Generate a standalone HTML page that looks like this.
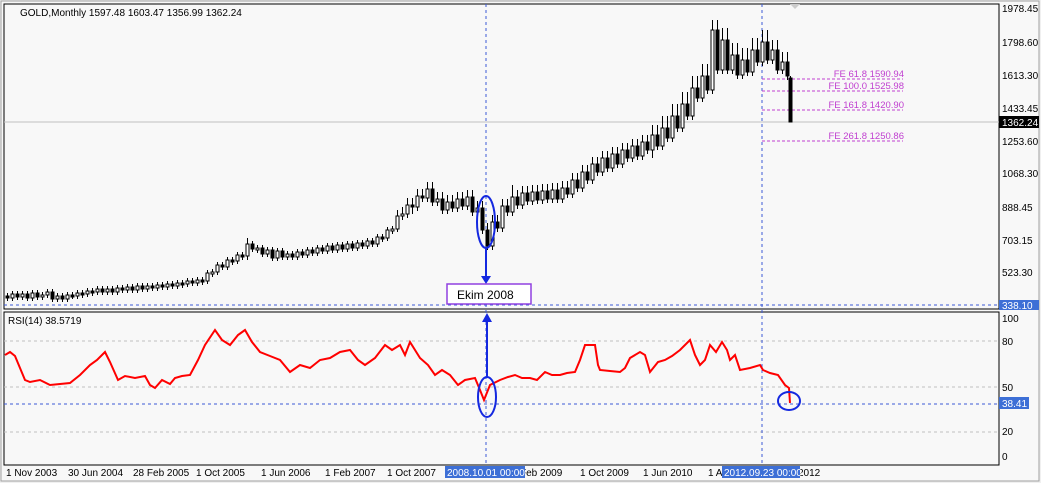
<!DOCTYPE html>
<html><head><meta charset="utf-8"><style>
html,body{margin:0;padding:0;background:#f0f0f0;}
svg{display:block;font-family:"Liberation Sans",sans-serif;}
</style></head><body>
<svg width="1041" height="483" xmlns="http://www.w3.org/2000/svg">
<rect x="0" y="0" width="1041" height="483" fill="#f0f0f0"/>
<rect x="1" y="1" width="1038" height="480" fill="#f8f8f8" stroke="#a0a0a0"/>
<rect x="4" y="4" width="995" height="305" fill="#f8f8f8" stroke="#000" stroke-width="1"/>
<rect x="4" y="312" width="995" height="153" fill="#f8f8f8" stroke="#000" stroke-width="1"/>
<text x="20" y="16" font-size="10">GOLD,Monthly  1597.48 1603.47 1356.99 1362.24</text>
<text x="8" y="324" font-size="10">RSI(14) 38.5719</text>
<g font-size="10" fill="#000">
<text x="1002" y="12">1978.45</text><text x="1002" y="46">1798.60</text><text x="1002" y="79">1613.30</text>
<text x="1002" y="112">1433.45</text><text x="1002" y="145">1253.60</text><text x="1002" y="177">1068.30</text>
<text x="1002" y="211">888.45</text><text x="1002" y="244">703.15</text><text x="1002" y="276">523.30</text>
<rect x="999" y="300" width="40" height="10" fill="#3d6fd6"/><text x="1002" y="309" fill="#fff">338.10</text>
<rect x="999" y="116" width="40" height="12" fill="#000"/><text x="1002" y="126" fill="#fff">1362.24</text>
<text x="1002" y="322">100</text><text x="1002" y="345">80</text><text x="1002" y="391">50</text>
<rect x="999" y="397" width="30" height="12" fill="#3d6fd6"/><text x="1002" y="407" fill="#fff">38.41</text>
<text x="1002" y="435">20</text><text x="1002" y="460">0</text>
</g>
<g stroke="#c0c0c0" stroke-dasharray="3,3">
<line x1="4" y1="341" x2="999" y2="341"/><line x1="4" y1="387" x2="999" y2="387"/><line x1="4" y1="432" x2="999" y2="432"/>
</g>
<line x1="4" y1="122" x2="999" y2="122" stroke="#c0c0c0"/>
<g stroke="#3d5ad6" stroke-dasharray="3,3">
<line x1="486" y1="4" x2="486" y2="465"/><line x1="762" y1="4" x2="762" y2="465"/>
<line x1="4" y1="305" x2="999" y2="305"/><line x1="4" y1="404" x2="999" y2="404"/>
</g>
<g stroke="#c040d0" stroke-dasharray="3,2">
<line x1="762" y1="79" x2="903" y2="79"/><line x1="762" y1="91" x2="903" y2="91"/>
<line x1="762" y1="110" x2="903" y2="110"/><line x1="762" y1="141" x2="903" y2="141"/>
</g>
<g font-size="9.5" fill="#c040d0" text-anchor="end">
<text x="904" y="77">FE 61.8 1590.94</text><text x="904" y="89">FE 100.0 1525.98</text>
<text x="904" y="108">FE 161.8 1420.90</text><text x="904" y="139">FE 261.8 1250.86</text>
</g>
<path fill="none" stroke="#000" d="M7.5,293V301M12.5,291V301M17.5,291V300M22.5,291V300M27.5,291V301M32.5,290V301M37.5,290V300M42.5,292V300M47.5,289V298M52.5,289V302M57.5,293V302M62.5,293V302M67.5,292V302M72.5,292V299M77.5,290V299M82.5,290V298M87.5,288V297M92.5,288V296M97.5,286V295M102.5,286V295M107.5,286V295M112.5,286V295M117.5,285V295M122.5,285V293M127.5,284V293M132.5,284V293M137.5,283V293M142.5,283V292M147.5,283V292M152.5,283V291M157.5,282V291M162.5,282V290M167.5,281V290M172.5,281V289M177.5,280V289M182.5,280V288M187.5,278V287M192.5,278V286M197.5,277V286M202.5,277V285M207.5,270V284M212.5,269V277M217.5,262V275M222.5,262V270M227.5,257V270M232.5,257V265M237.5,252V264M242.5,252V260M247.5,238V260M252.5,241V252M257.5,245V253M262.5,245V257M267.5,247V257M272.5,247V261M277.5,248V261M282.5,248V260M287.5,251V260M292.5,251V260M297.5,249V260M302.5,249V258M307.5,247V258M312.5,247V256M317.5,245V256M322.5,245V254M327.5,243V254M332.5,243V253M337.5,242V253M342.5,242V252M347.5,241V252M352.5,241V251M357.5,240V251M362.5,240V249M367.5,238V249M372.5,238V247M377.5,234V247M382.5,234V242M387.5,227V241M392.5,226V234M397.5,210V232M402.5,207V220M407.5,198V218M412.5,198V214M417.5,189V211M422.5,189V202M427.5,182V202M432.5,182V206M437.5,192V206M442.5,192V214M447.5,195V214M452.5,195V212M457.5,192V212M462.5,192V210M467.5,190V210M472.5,190V216M477.5,201V216M482.5,201V234M487.5,223V250M492.5,215V250M497.5,215V232M502.5,199V232M507.5,199V216M512.5,185V216M517.5,190V209M522.5,186V209M527.5,186V205M532.5,185V205M537.5,185V204M542.5,184V204M547.5,184V203M552.5,183V203M557.5,183V203M562.5,181V203M567.5,181V198M572.5,173V198M577.5,173V192M582.5,165V192M587.5,165V184M592.5,157V184M597.5,157V176M602.5,151V176M607.5,151V172M612.5,147V172M617.5,147V168M622.5,143V168M627.5,143V162M632.5,139V162M637.5,139V160M642.5,135V160M647.5,135V154M652.5,125V158M657.5,125V150M662.5,116V150M667.5,116V142M672.5,104V142M677.5,104V132M682.5,92V132M687.5,92V120M692.5,76V120M697.5,76V102M702.5,64V102M707.5,64V94M712.5,20V94M717.5,20V74M722.5,28V74M727.5,28V74M732.5,43V74M737.5,43V79M742.5,48V79M747.5,48V76M752.5,38V76M757.5,38V66M762.5,30V66M767.5,30V64M772.5,40V64M777.5,40V74M782.5,52V74M787.5,52V80M790.5,76V122"/>
<path fill="#000" stroke="#000" stroke-width="1" d="M6,296h3v2h-3zM16,294h3v3h-3zM26,294h3v4h-3zM36,293h3v4h-3zM51,292h3v7h-3zM61,296h3v3h-3zM71,295h3v2h-3zM81,293h3v2h-3zM91,291h3v2h-3zM101,289h3v3h-3zM111,289h3v3h-3zM121,288h3v2h-3zM131,287h3v3h-3zM141,286h3v3h-3zM151,286h3v2h-3zM161,285h3v2h-3zM171,284h3v2h-3zM181,283h3v2h-3zM191,281h3v2h-3zM201,280h3v2h-3zM221,265h3v2h-3zM231,260h3v2h-3zM241,255h3v2h-3zM251,244h3v5h-3zM261,248h3v6h-3zM271,250h3v8h-3zM281,251h3v6h-3zM291,254h3v3h-3zM301,252h3v3h-3zM311,250h3v3h-3zM321,248h3v3h-3zM331,246h3v4h-3zM341,245h3v4h-3zM351,244h3v4h-3zM361,243h3v3h-3zM371,241h3v3h-3zM381,237h3v2h-3zM411,205h3v2h-3zM421,196h3v2h-3zM431,189h3v13h-3zM441,199h3v11h-3zM451,202h3v6h-3zM461,199h3v7h-3zM471,197h3v15h-3zM481,208h3v22h-3zM486,230h3v16h-3zM496,222h3v6h-3zM506,206h3v6h-3zM516,197h3v8h-3zM526,193h3v8h-3zM536,192h3v8h-3zM546,191h3v8h-3zM556,190h3v9h-3zM566,188h3v6h-3zM576,180h3v8h-3zM586,172h3v8h-3zM596,164h3v8h-3zM606,158h3v10h-3zM616,154h3v10h-3zM626,150h3v8h-3zM636,146h3v10h-3zM646,142h3v8h-3zM656,135h3v11h-3zM666,128h3v10h-3zM676,116h3v12h-3zM686,104h3v12h-3zM696,88h3v10h-3zM706,76h3v14h-3zM716,30h3v40h-3zM726,40h3v30h-3zM736,55h3v20h-3zM746,60h3v12h-3zM756,50h3v12h-3zM766,42h3v18h-3zM776,50h3v20h-3zM786,62h3v14h-3zM789,78h3v44h-3z"/>
<path fill="#fff" stroke="#000" stroke-width="1" d="M11,294h3v4h-3zM21,294h3v3h-3zM31,293h3v5h-3zM41,295h3v2h-3zM46,292h3v3h-3zM56,296h3v3h-3zM66,295h3v4h-3zM76,293h3v3h-3zM86,291h3v3h-3zM96,289h3v3h-3zM106,289h3v3h-3zM116,288h3v4h-3zM126,287h3v3h-3zM136,286h3v4h-3zM146,286h3v3h-3zM156,285h3v3h-3zM166,284h3v3h-3zM176,283h3v3h-3zM186,281h3v3h-3zM196,280h3v3h-3zM206,273h3v8h-3zM211,272h3v2h-3zM216,265h3v7h-3zM226,260h3v7h-3zM236,255h3v6h-3zM246,244h3v12h-3zM256,248h3v2h-3zM266,250h3v4h-3zM276,251h3v7h-3zM286,254h3v3h-3zM296,252h3v5h-3zM306,250h3v5h-3zM316,248h3v5h-3zM326,246h3v5h-3zM336,245h3v5h-3zM346,244h3v5h-3zM356,243h3v5h-3zM366,241h3v5h-3zM376,237h3v7h-3zM386,230h3v8h-3zM391,229h3v2h-3zM396,216h3v13h-3zM401,214h3v2h-3zM406,205h3v9h-3zM416,196h3v11h-3zM426,189h3v9h-3zM436,199h3v3h-3zM446,202h3v8h-3zM456,199h3v9h-3zM466,197h3v9h-3zM476,208h3v4h-3zM491,222h3v24h-3zM501,206h3v22h-3zM511,197h3v15h-3zM521,193h3v12h-3zM531,192h3v9h-3zM541,191h3v9h-3zM551,190h3v9h-3zM561,188h3v11h-3zM571,180h3v14h-3zM581,172h3v16h-3zM591,164h3v16h-3zM601,158h3v14h-3zM611,154h3v14h-3zM621,150h3v14h-3zM631,146h3v12h-3zM641,142h3v14h-3zM651,135h3v15h-3zM661,128h3v18h-3zM671,116h3v22h-3zM681,104h3v24h-3zM691,88h3v28h-3zM701,76h3v22h-3zM711,30h3v60h-3zM721,40h3v30h-3zM731,55h3v15h-3zM741,60h3v15h-3zM751,50h3v22h-3zM761,42h3v20h-3zM771,50h3v10h-3zM781,62h3v8h-3z"/>
<polyline fill="none" stroke="#f00" stroke-width="2" points="5,355 10,352 15,356 20,368 25,380 30,382 40,380 50,385 60,384 70,383 80,375 90,365 97,360 105,352 110,362 118,380 125,376 135,378 145,376 150,385 155,388 162,380 170,384 175,378 182,376 190,375 198,360 205,345 215,330 222,340 230,345 238,335 245,330 252,342 260,352 270,356 280,360 290,372 300,365 310,368 320,360 330,358 340,352 350,350 358,360 365,365 375,358 385,345 392,350 400,345 405,355 410,342 420,358 428,365 435,375 442,370 450,375 458,385 465,380 475,378 480,390 484,400 490,385 500,380 508,377 515,375 522,378 530,378 537,380 545,372 552,375 560,375 567,373 575,372 580,360 585,345 595,345 598,365 600,370 610,371 620,372 625,368 630,358 640,352 645,355 650,372 658,362 665,360 672,356 680,350 690,340 695,355 700,365 705,360 710,345 716,352 722,342 727,350 730,360 735,355 740,370 750,368 760,365 763,370 770,373 778,375 785,385 789,388 790,403"/>
<g stroke="#1428e0" stroke-width="2" fill="none">
<ellipse cx="486" cy="222" rx="9" ry="26"/>
<ellipse cx="487" cy="397" rx="9" ry="20"/>
<ellipse cx="789" cy="401" rx="11" ry="9"/>
<line x1="486" y1="248" x2="486" y2="282"/><line x1="487" y1="316" x2="487" y2="377"/>
</g>
<path d="M481,276 L486,284 L491,276Z M482,322 L487,313 L492,322Z" fill="#1428e0"/>
<rect x="447" y="284" width="84" height="20" fill="#fff" stroke="#9040e0" stroke-width="1.5"/>
<text x="457" y="299" font-size="12">Ekim 2008</text>
<g font-size="10" fill="#000">
<text x="6" y="476">1 Nov 2003</text><text x="68" y="476">30 Jun 2004</text><text x="133" y="476">28 Feb 2005</text>
<text x="196" y="476">1 Oct 2005</text><text x="261" y="476">1 Jun 2006</text><text x="325" y="476">1 Feb 2007</text>
<text x="387" y="476">1 Oct 2007</text><text x="520" y="476">Feb 2009</text><text x="580" y="476">1 Oct 2009</text>
<text x="643" y="476">1 Jun 2010</text><text x="708" y="476">1 A</text><text x="798" y="476">2012</text>
<rect x="445" y="466" width="80" height="12" fill="#3d6fd6"/><text x="447" y="476" fill="#fff">2008.10.01 00:00</text>
<rect x="722" y="466" width="78" height="12" fill="#3d6fd6"/><text x="724" y="476" fill="#fff">2012.09.23 00:00</text>
</g>
<path d="M790,4 L800,4 L795,9Z" fill="#ccc"/>
</svg>
</body></html>
